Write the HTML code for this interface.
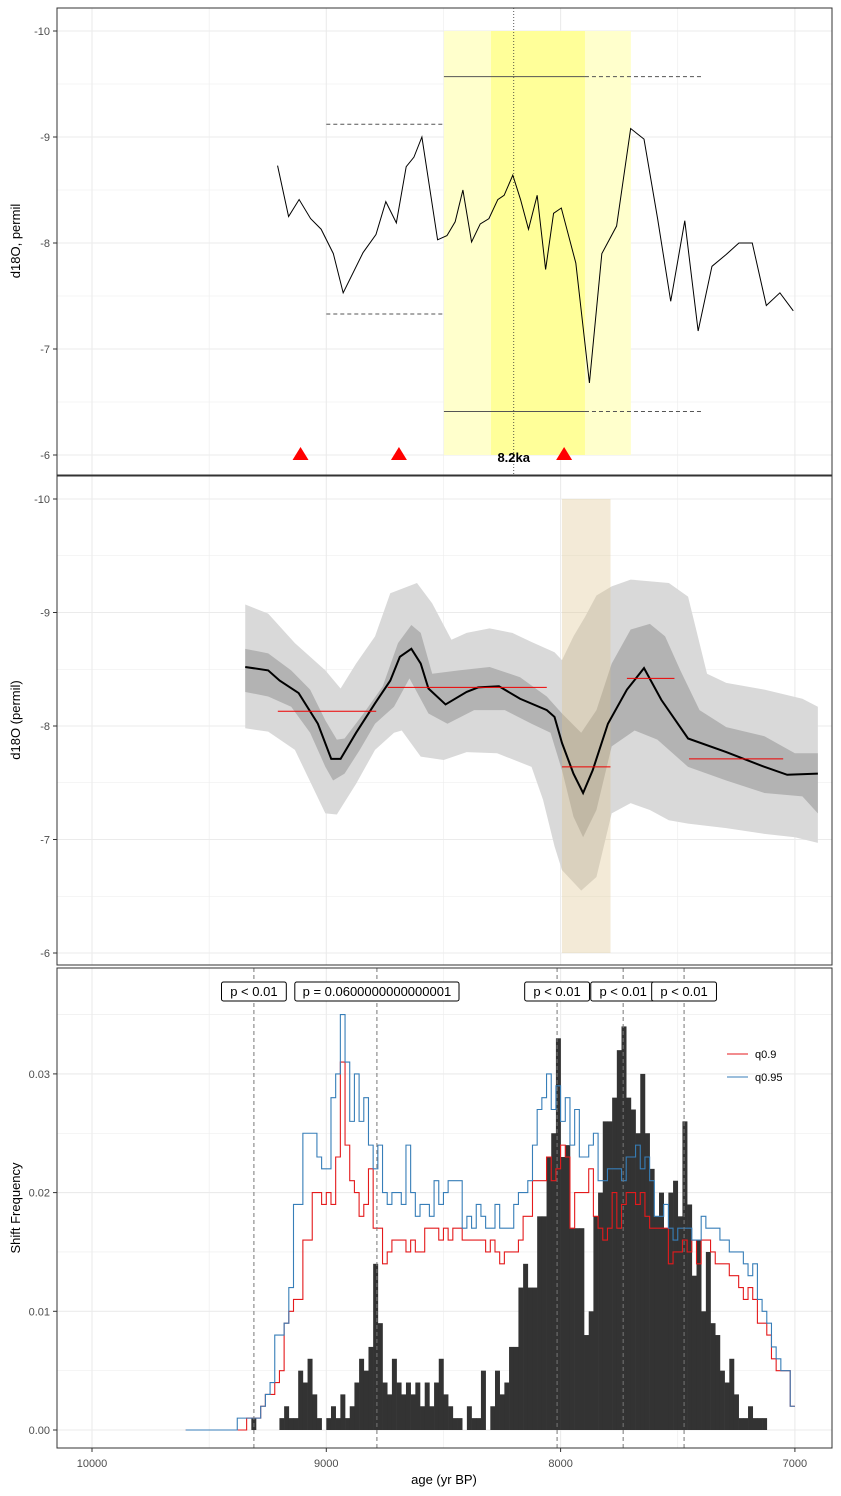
<!DOCTYPE html>
<html><head><meta charset="utf-8">
<style>
html,body{margin:0;padding:0;background:#fff;}
svg{display:block;font-family:"Liberation Sans",sans-serif;}
</style></head>
<body>
<svg id="chart" width="841" height="1496" viewBox="0 0 841 1496" xmlns="http://www.w3.org/2000/svg">
</svg>
<script>
// ---------- DATA ----------
// Panel 1: raw d18O record
const p1Ages = [9208,9161,9116,9067,9022,8970,8928,8843,8788,8746,8701,8659,8626,8592,8525,8485,8450,8417,8380,8343,8306,8268,8241,8204,8171,8137,8100,8064,8030,7997,7935,7877,7824,7761,7701,7644,7586,7530,7470,7413,7354,7294,7239,7182,7122,7064,7007];
const p1Vals = [-8.73,-8.25,-8.41,-8.23,-8.13,-7.90,-7.53,-7.91,-8.08,-8.39,-8.19,-8.72,-8.81,-9.00,-8.03,-8.07,-8.20,-8.50,-8.01,-8.18,-8.23,-8.41,-8.45,-8.64,-8.41,-8.13,-8.45,-7.75,-8.28,-8.33,-7.81,-6.68,-7.90,-8.16,-9.08,-8.98,-8.23,-7.45,-8.21,-7.17,-7.78,-7.89,-8.00,-8.00,-7.41,-7.53,-7.36];
const p1Triangles = [9110, 8690, 7985];
const yTicks1 = [-10,-9,-8,-7,-6];

// Panel 2: smoothed record with bands
const medAges = [9346,9248,9199,9118,9036,8979,8939,8873,8792,8727,8686,8637,8597,8564,8491,8401,8352,8263,8173,8059,8026,7994,7945,7904,7863,7798,7717,7644,7570,7456,7293,7130,7033,6902];
const medVals = [-8.52,-8.49,-8.40,-8.29,-8.02,-7.71,-7.71,-7.94,-8.20,-8.40,-8.61,-8.68,-8.55,-8.33,-8.19,-8.30,-8.34,-8.35,-8.24,-8.14,-8.08,-7.85,-7.58,-7.41,-7.61,-8.02,-8.32,-8.51,-8.23,-7.89,-7.77,-7.64,-7.57,-7.58];
const lightUpAges = [9346,9248,9134,9004,8939,8873,8792,8727,8613,8548,8466,8401,8303,8206,8124,8026,7994,7945,7896,7847,7782,7701,7538,7456,7375,7293,7130,6968,6902];
const lightUpVals = [-9.07,-8.99,-8.73,-8.49,-8.33,-8.55,-8.79,-9.17,-9.26,-9.08,-8.76,-8.82,-8.86,-8.82,-8.74,-8.65,-8.58,-8.79,-8.96,-9.15,-9.23,-9.29,-9.26,-9.14,-8.46,-8.38,-8.32,-8.24,-8.17];
const lightLoAges = [9346,9248,9134,9004,8955,8873,8792,8711,8678,8597,8499,8401,8271,8124,8075,8026,7994,7912,7847,7782,7701,7619,7538,7456,7293,7130,7000,6902];
const lightLoVals = [-7.98,-7.95,-7.79,-7.23,-7.22,-7.49,-7.79,-7.94,-7.96,-7.73,-7.70,-7.77,-7.76,-7.64,-7.35,-6.94,-6.73,-6.55,-6.67,-7.23,-7.32,-7.26,-7.17,-7.14,-7.10,-7.05,-7.02,-6.97];
const darkUpAges = [9346,9248,9150,9069,9004,8955,8922,8841,8759,8694,8637,8597,8548,8434,8303,8173,8059,7994,7912,7847,7782,7701,7619,7554,7489,7407,7293,7130,7000,6902];
const darkUpVals = [-8.68,-8.64,-8.49,-8.32,-8.05,-7.88,-7.89,-8.11,-8.35,-8.73,-8.89,-8.82,-8.46,-8.49,-8.52,-8.43,-8.26,-8.11,-7.94,-8.14,-8.55,-8.85,-8.90,-8.79,-8.49,-8.14,-7.99,-7.91,-7.76,-7.76];
const darkLoAges = [9346,9248,9150,9069,9004,8971,8922,8857,8792,8711,8645,8564,8483,8369,8238,8124,8043,7994,7945,7904,7847,7782,7684,7587,7456,7293,7130,6968,6902];
const darkLoVals = [-8.30,-8.26,-8.17,-7.94,-7.64,-7.52,-7.58,-7.79,-8.02,-8.17,-8.42,-8.11,-8.02,-8.14,-8.14,-8.02,-7.94,-7.61,-7.20,-7.02,-7.26,-7.82,-7.96,-7.88,-7.64,-7.52,-7.41,-7.38,-7.23];
const segStart = [9207,8738,7994,7717,7452];
const segEnd = [8787,8059,7787,7514,7050];
const segVals = [-8.13,-8.34,-7.64,-8.42,-7.71];

// Panel 3: shift frequency (units of 0.001), 20-yr bins
const stepStart = 9600;
const q95 = [0,0,0,0,0,0,0,0,0,0,0,1,1,1,1,1,2,3,4,8,8,9,12,19,19,25,25,25,23,22,22,28,30,35,31,26,30,26,28,24,22,24,20,19,20,20,19,24,20,18,19,19,18,21,19,20,21,21,21,17,18,17,19,18,17,17,19,17,17,17,19,20,20,21,24,27,28,30,27,29,26,28,24,27,23,23,24,25,21,21,22,22,22,21,23,23,24,22,23,21,18,18,19,17,16,17,17,17,16,16,18,17,17,17,16,16,15,15,15,14,13,14,11,10,9,7,6,5,5,2];
const q90 = [0,0,0,0,0,0,0,0,0,0,0,0,0,1,1,1,2,3,3,4,5,9,10,11,11,16,16,20,20,19,20,19,23,31,24,21,20,18,19,22,17,17,14,15,16,16,16,15,16,15,15,17,17,17,16,17,16,17,17,16,16,16,16,16,15,16,15,14,15,15,15,16,18,18,21,21,21,23,21,22,24,23,17,20,20,20,22,18,17,16,17,20,17,19,20,20,19,20,18,17,17,17,17,14,15,15,16,15,16,14,16,16,15,14,14,14,13,13,12,11,12,11,9,9,8,6,5,5,5,2];
const histStart = 9320;
const hist = [1,0,0,0,0,0,1,2,1,1,5,4,6,3,1,0,1,2,1,3,1,2,4,6,5,7,14,9,4,3,6,4,3,4,3,4,2,4,2,4,6,3,2,1,1,0,2,1,1,5,0,2,5,3,4,7,7,12,14,12,12,18,18,23,25,33,23,24,17,17,17,8,10,18,20,26,26,28,32,34,28,27,25,30,25,22,18,20,17,20,21,18,26,19,13,16,10,15,9,8,5,4,6,3,1,1,2,1,1,1];
const shiftAges = [9309,8784,8015,7733,7473];
const shiftLabels = ["p < 0.01","p = 0.0600000000000001","p < 0.01","p < 0.01","p < 0.01"];
const yTicks3 = [0,0.01,0.02,0.03];
const xTicks = [10000,9000,8000,7000];

// ---------- SCALES ----------
const X = a => 92 + (10000 - a) * 0.2343;
const Y1 = v => 31 + (v + 10) * 106;
const Y2 = v => 499 + (v + 10) * 113.5;
const Y3 = f => 1430 - f * 11870;
const NS = "http://www.w3.org/2000/svg";
const svg = document.getElementById('chart');
function mk(tag, attrs, parent) {
  const e = document.createElementNS(NS, tag);
  for (const k in attrs) e.setAttribute(k, attrs[k]);
  (parent || svg).appendChild(e);
  return e;
}
function grp(name){ const g = mk('g', {});   return g; }

// panel frames & grids
const panels = [{y0:8,y1:475,name:'panel-raw'},{y0:476,y1:965,name:'panel-smoothed'},{y0:968,y1:1448,name:'panel-shift-frequency'}];
panels.forEach(p => {
  const g = grp(p.name + '-grid');
  [10000,9500,9000,8500,8000,7500,7000].forEach((a,i) => {
    mk('line',{x1:X(a),x2:X(a),y1:p.y0,y2:p.y1,stroke:'#ebebeb','stroke-width': a%1000===0?1.1:0.55},g);
  });
});
const gGridH = grp('horizontal-gridlines');
[-10,-9.5,-9,-8.5,-8,-7.5,-7,-6.5,-6].forEach(v => {
  const w = Number.isInteger(v)?1.1:0.55;
  mk('line',{x1:57,x2:832,y1:Y1(v),y2:Y1(v),stroke:'#ebebeb','stroke-width':w},gGridH);
  mk('line',{x1:57,x2:832,y1:Y2(v),y2:Y2(v),stroke:'#ebebeb','stroke-width':w},gGridH);
});
[0,0.005,0.01,0.015,0.02,0.025,0.03,0.035].forEach(f => {
  mk('line',{x1:57,x2:832,y1:Y3(f),y2:Y3(f),stroke:'#ebebeb','stroke-width':(Math.round(f*1000)%10===0)?1.1:0.55},gGridH);
});

// ---------- PANEL 1 ----------
const p1 = grp('raw-panel-marks');
const light = mk('rect',{x:X(8498),y:Y1(-10),width:X(7700)-X(8498),height:Y1(-6)-Y1(-10),fill:'#ffffcc'},p1);

const bright = mk('rect',{x:X(8297),y:Y1(-10),width:X(7896)-X(8297),height:Y1(-6)-Y1(-10),fill:'#ffff99'},p1);

const ref = mk('line',{x1:X(8200),x2:X(8200),y1:8,y2:475,stroke:'#333','stroke-dasharray':'1,2','stroke-width':0.8},p1);

mk('line',{x1:X(9000),x2:X(8498),y1:Y1(-9.12),y2:Y1(-9.12),stroke:'#555','stroke-dasharray':'4,3'},p1);
mk('line',{x1:X(9000),x2:X(8498),y1:Y1(-7.33),y2:Y1(-7.33),stroke:'#555','stroke-dasharray':'4,3'},p1);
mk('line',{x1:X(8498),x2:X(7896),y1:Y1(-9.57),y2:Y1(-9.57),stroke:'#555'},p1);
mk('line',{x1:X(7896),x2:X(7400),y1:Y1(-9.57),y2:Y1(-9.57),stroke:'#555','stroke-dasharray':'4,3'},p1);
mk('line',{x1:X(8498),x2:X(7896),y1:Y1(-6.41),y2:Y1(-6.41),stroke:'#555'},p1);
mk('line',{x1:X(7896),x2:X(7400),y1:Y1(-6.41),y2:Y1(-6.41),stroke:'#555','stroke-dasharray':'4,3'},p1);
const rawLine = mk('polyline',{points:p1Ages.map((a,i)=>X(a)+','+Y1(p1Vals[i])).join(' '),fill:'none',stroke:'#000','stroke-width':1},p1);

p1Triangles.forEach(a => {
  const t = mk('polygon',{points:`${X(a)},${Y1(-6)-8} ${X(a)-8},${Y1(-6)+5} ${X(a)+8},${Y1(-6)+5}`,fill:'#ff0000'},p1);
  
});
const lbl = mk('text',{x:X(8200),y:462,'text-anchor':'middle','font-size':13,'font-weight':'bold',fill:'#000'},p1);
lbl.textContent='8.2ka';


// ---------- PANEL 2 ----------
const p2 = grp('smoothed-panel-marks');
function band(upA,upV,loA,loV,fill,name){
  const pts = upA.map((a,i)=>X(a)+','+Y2(upV[i])).concat(loA.slice().reverse().map((a,i)=>X(a)+','+Y2(loV[loV.length-1-i])));
  const b = mk('polygon',{points:pts.join(' '),fill:fill},p2);
  
}
band(lightUpAges,lightUpVals,lightLoAges,lightLoVals,'#d9d9d9','outer-confidence-band');
band(darkUpAges,darkUpVals,darkLoAges,darkLoVals,'#b3b3b3','inner-confidence-band');
const ev2 = mk('rect',{x:X(7994),y:Y2(-10),width:X(7787)-X(7994),height:Y2(-6)-Y2(-10),fill:'rgb(220,195,140)','fill-opacity':0.35},p2);

const med = mk('polyline',{points:medAges.map((a,i)=>X(a)+','+Y2(medVals[i])).join(' '),fill:'none',stroke:'#000','stroke-width':2},p2);

segStart.forEach((a,i)=>{
  const s = mk('line',{x1:X(a),x2:X(segEnd[i]),y1:Y2(segVals[i]),y2:Y2(segVals[i]),stroke:'#ee0000','stroke-width':1},p2);
  
});

// ---------- PANEL 3 ----------
const p3 = grp('shift-panel-marks');
hist.forEach((v,i)=>{
  if(!v) return;
  const a = histStart - 20*i;
  const r = mk('rect',{x:X(a),y:Y3(v*0.001),width:X(a-20)-X(a)+0.3,height:Y3(0)-Y3(v*0.001),fill:'#333333'},p3);
  
});
function step(vals,color,name){
  let d='';
  vals.forEach((v,i)=>{
    const a = stepStart - 20*i;
    d += (i===0?'M':'L') + X(a)+','+Y3(v*0.001)+' L'+X(a-20)+','+Y3(v*0.001)+' ';
  });
  const p = mk('path',{d:d,fill:'none',stroke:color,'stroke-width':1.1},p3);
  
}
step(q90,'#e41a1c','q0.9-step-line');
step(q95,'#377eb8','q0.95-step-line');
shiftAges.forEach((a,i)=>{
  const l = mk('line',{x1:X(a),x2:X(a),y1:968,y2:1448,stroke:'#777','stroke-dasharray':'4,3','stroke-width':1},p3);
  
  const t = mk('text',{x:X(a),y:996,'text-anchor':'middle','font-size':13,fill:'#000'},p3);
  t.textContent = shiftLabels[i];
  
  const w = shiftLabels[i].length*7.1+8;
  const bx = mk('rect',{x:X(a)-w/2,y:982,width:w,height:19,rx:2,fill:'#fff',stroke:'#000','stroke-width':1},p3);
  p3.insertBefore(bx,t);
});
// legend
const lg = grp('legend');
mk('line',{x1:727,x2:748,y1:1054,y2:1054,stroke:'#e41a1c'},lg);
mk('line',{x1:727,x2:748,y1:1077,y2:1077,stroke:'#377eb8'},lg);
const l1 = mk('text',{x:755,y:1058,'font-size':11,fill:'#000'},lg); l1.textContent='q0.9';

const l2 = mk('text',{x:755,y:1081,'font-size':11,fill:'#000'},lg); l2.textContent='q0.95';


// ---------- AXES ----------
const ax = grp('axes');
panels.forEach(p => { mk('rect',{x:57,y:p.y0,width:775,height:p.y1-p.y0,fill:'none',stroke:'#333','stroke-width':1},ax); });
yTicks1.forEach(v=>{
  mk('line',{x1:53,x2:57,y1:Y1(v),y2:Y1(v),stroke:'#333'},ax);
  const t = mk('text',{x:50,y:Y1(v)+4,'text-anchor':'end','font-size':11,fill:'#4d4d4d'},ax); t.textContent=v;
  mk('line',{x1:53,x2:57,y1:Y2(v),y2:Y2(v),stroke:'#333'},ax);
  const t2 = mk('text',{x:50,y:Y2(v)+4,'text-anchor':'end','font-size':11,fill:'#4d4d4d'},ax); t2.textContent=v;
});
yTicks3.forEach(f=>{
  mk('line',{x1:53,x2:57,y1:Y3(f),y2:Y3(f),stroke:'#333'},ax);
  const t = mk('text',{x:50,y:Y3(f)+4,'text-anchor':'end','font-size':11,fill:'#4d4d4d'},ax); t.textContent=f.toFixed(2);
});
xTicks.forEach(a=>{
  mk('line',{x1:X(a),x2:X(a),y1:1448,y2:1452,stroke:'#333'},ax);
  const t = mk('text',{x:X(a),y:1467,'text-anchor':'middle','font-size':11,fill:'#4d4d4d'},ax); t.textContent=a;
});
function title(txt,x,y,rot,name){
  const t = mk('text',{x:x,y:y,'text-anchor':'middle','font-size':13,fill:'#000',transform:rot?`rotate(-90 ${x} ${y})`:''},ax);
  t.textContent=txt;
  
}
title('d18O, permil',20,241,true,'y-axis-title-raw');
title('d18O (permil)',20,720,true,'y-axis-title-smoothed');
title('Shift Frequency',20,1208,true,'y-axis-title-shift');
title('age (yr BP)',444,1484,false,'x-axis-title');
</script>
</body></html>
